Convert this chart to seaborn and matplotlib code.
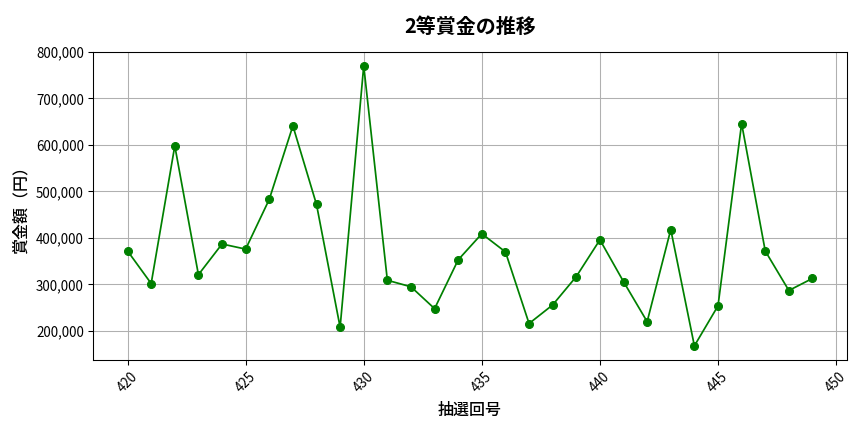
import matplotlib
matplotlib.use("Agg")
import matplotlib.pyplot as plt
import matplotlib.ticker as mticker
import seaborn as sns
import pandas as pd

# 抽選回号 and 2等賞金
draws = list(range(420, 450))
prizes = [372000, 302000, 598000, 321000, 387000, 376000, 483000, 641000, 472000, 208000,
          770000, 309000, 295000, 248000, 353000, 409000, 370000, 216000, 256000, 317000,
          396000, 306000, 220000, 418000, 168000, 254000, 646000, 372000, 287000, 313000]

df = pd.DataFrame({"draw": draws, "prize": prizes})

plt.rcParams['font.family'] = ['Noto Sans CJK JP', 'DejaVu Sans']

fig, ax = plt.subplots(figsize=(9, 4.5), dpi=96)
sns.lineplot(data=df, x="draw", y="prize", color="green", marker="o",
             markersize=6, markeredgecolor="green", linewidth=1.3, ax=ax)

ax.set_title("2等賞金の推移", fontsize=15, fontweight="bold", pad=14)
ax.set_xlabel("抽選回号", fontsize=12, fontweight="medium", labelpad=5)
ax.set_ylabel("賞金額（円）", fontsize=12, fontweight="medium", labelpad=5)
ax.yaxis.set_major_formatter(mticker.FuncFormatter(lambda v, p: f"{int(v):,}"))
ax.tick_params(axis="x", rotation=45, labelsize=10)
ax.tick_params(axis="y", labelsize=10)
ax.grid(True)

fig.subplots_adjust(left=0.108, right=0.980, top=0.880, bottom=0.167)
fig.savefig("out.png", dpi=96)
